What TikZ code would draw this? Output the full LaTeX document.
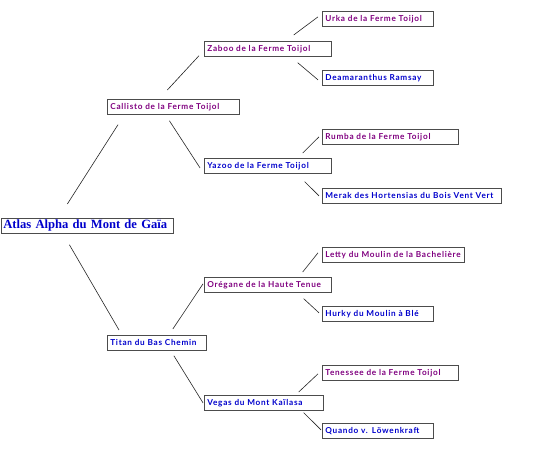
\documentclass[tikz,border=0pt]{standalone}
\usepackage{fontspec}
\newfontfamily\dogfont{Lato}[LetterSpace=9]
\newfontfamily\sirefont{Liberation Serif}
\definecolor{femcol}{RGB}{128,0,128}
\definecolor{malecol}{RGB}{0,0,204}

\begin{document}
\begin{tikzpicture}[x=1pt,y=-1pt,
    dog/.style={draw=gray!60!black,line width=0.7pt,anchor=north west,
      inner xsep=3pt,inner ysep=0pt,minimum height=15pt,
      text width=#1,align=left,font=\dogfont\bfseries\fontsize{8.2}{9}\selectfont},
    she/.style={text=femcol},
    he/.style={text=malecol},
    link/.style={black!85,line width=0.6pt}]
\useasboundingbox[fill=white] (0,0) rectangle (550,462);
%
% ============ Sujet ============
\node[dog=168,he,inner xsep=2pt,font=\sirefont\bfseries\fontsize{12.6}{14}\selectfont] (atlas) at (1,218) {Atlas Alpha du Mont de Gaïa};
%
% ============ Parents ============
\node[dog=126,she] (callisto) at (107,99) {Callisto de la Ferme Toijol};
\node[dog=93,he] (titan) at (107,335) {Titan du Bas Chemin};
%
% ============ Grands-parents ============
\node[dog=121,she] (zaboo) at (204,41) {Zaboo de la Ferme Toijol};
\node[dog=121,he] (yazoo) at (204,158) {Yazoo de la Ferme Toijol};
\node[dog=121,she] (oregane) at (204,277) {Orégane de la Haute Tenue};
\node[dog=113,he] (vegas) at (204,395) {Vegas du Mont Kaïlasa};
%
% ============ Arrière-grands-parents ============
\node[dog=105,she] (urka) at (322,11) {Urka de la Ferme Toijol};
\node[dog=105,he] (deamar) at (322,70) {Deamaranthus Ramsay};
\node[dog=130,she] (rumba) at (322,129) {Rumba de la Ferme Toijol};
\node[dog=173,he] (merak) at (322,188) {Merak des Hortensias du Bois Vent Vert};
\node[dog=136,she] (letty) at (322,247) {Letty du Moulin de la Bachelière};
\node[dog=105,he] (hurky) at (322,306) {Hurky du Moulin à Blé};
\node[dog=130,she] (tenessee) at (322,365) {Tenessee de la Ferme Toijol};
\node[dog=105,he] (quando) at (322,423) {Quando v. Löwenkraft};
%
% Liens
\draw[link] ([xshift=-20pt,yshift=14pt]atlas.north) -- ([xshift=11pt,yshift=-10pt]callisto.south west);
\draw[link] ([xshift=-18pt,yshift=-11pt]atlas.south) -- ([xshift=12pt,yshift=5pt]titan.north west);
\draw[link] ([xshift=-6pt,yshift=9pt]callisto.north) -- ([xshift=-5pt,yshift=1pt]zaboo.south west);
\draw[link] ([xshift=-4pt,yshift=-6pt]callisto.south) -- ([xshift=-4pt,yshift=-2pt]yazoo.west);
\draw[link] ([xshift=16pt,yshift=6pt]titan.north) -- ([xshift=-1pt,yshift=1pt]oregane.west);
\draw[link] ([xshift=17pt,yshift=-5pt]titan.south) -- ([xshift=-1pt]vegas.west);
%
\draw[link] ([xshift=-38pt,yshift=6pt]zaboo.north east) -- ([xshift=-4pt,yshift=2pt]urka.west);
\draw[link] ([xshift=-34pt,yshift=-6pt]zaboo.south east) -- ([xshift=-4pt,yshift=-2pt]deamar.west);
\draw[link] ([xshift=-29pt,yshift=5pt]yazoo.north east) -- ([xshift=-3pt]rumba.west);
\draw[link] ([xshift=-27pt,yshift=-8pt]yazoo.south east) -- ([xshift=-3pt]merak.west);
\draw[link] ([xshift=-29pt,yshift=5pt]oregane.north east) -- ([xshift=-4pt,yshift=2pt]letty.west);
\draw[link] ([xshift=-28pt,yshift=-6pt]oregane.south east) -- ([xshift=-3pt,yshift=1pt]hurky.west);
\draw[link] ([xshift=-25pt,yshift=3pt]vegas.north east) -- ([xshift=-4pt,yshift=-1pt]tenessee.west);
\draw[link] ([xshift=-20pt,yshift=-2pt]vegas.south east) -- ([xshift=-1pt,yshift=1pt]quando.west);
\end{tikzpicture}
\end{document}
